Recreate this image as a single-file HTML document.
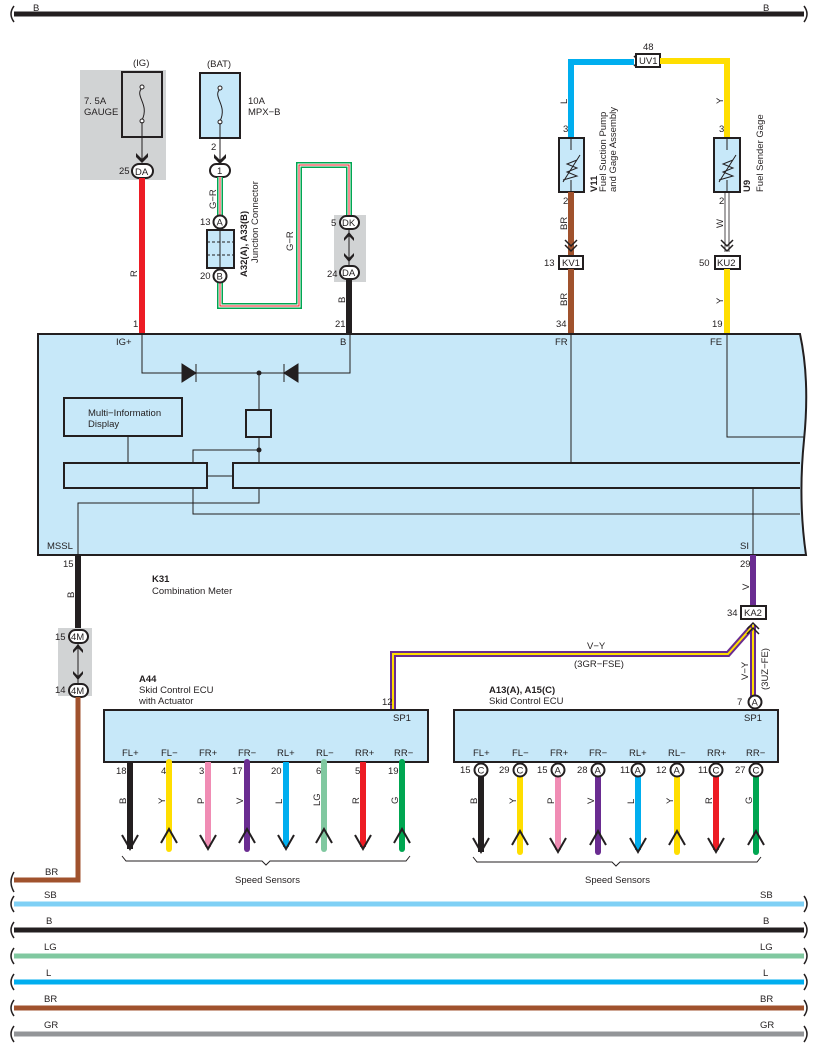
<!DOCTYPE html>
<html><head><meta charset="utf-8"><style>
html,body{margin:0;padding:0;background:#fff}
svg{display:block}
text{font-family:"Liberation Sans",sans-serif;font-size:9.5px;fill:#231f20}
</style></head><body>
<svg width="818" height="1056" viewBox="0 0 818 1056" xmlns="http://www.w3.org/2000/svg">
<!-- top bus -->
<line x1="14" y1="14" x2="804" y2="14" stroke="#231f20" stroke-width="5"/>
<path d="M14 6 q-6 8 0 16 M804 6 q6 8 0 16" stroke="#231f20" stroke-width="1.5" fill="none"/>
<text x="33" y="11">B</text><text x="763" y="11">B</text>

<!-- IG fuse -->
<rect x="80" y="70" width="86" height="110" fill="#d1d3d4"/>
<text x="133" y="66">(IG)</text>
<rect x="122" y="72" width="40" height="65" fill="#d1d3d4" stroke="#231f20" stroke-width="2"/>
<path d="M142 88 c-8 8 8 16 0 32" stroke="#231f20" fill="none"/>
<circle cx="142" cy="87" r="2" fill="#fff" stroke="#231f20"/><circle cx="142" cy="121" r="2" fill="#fff" stroke="#231f20"/>
<line x1="142" y1="122" x2="142" y2="160" stroke="#231f20"/>
<path d="M136 153 l6 6 l6 -6 l0 4 l-6 6 l-6 -6z" fill="#231f20"/>
<text x="84" y="104">7. 5A</text><text x="84" y="115">GAUGE</text>
<text x="119" y="174">25</text>
<rect x="132" y="164" width="21" height="14" rx="7" fill="#fff" stroke="#231f20" stroke-width="2"/>
<text x="135" y="175">DA</text>
<line x1="142" y1="178" x2="142" y2="333" stroke="#ed1c24" stroke-width="6"/>
<text x="0" y="0" transform="translate(137,277) rotate(-90)">R</text>
<text x="133" y="327">1</text>

<!-- BAT fuse -->
<text x="207" y="67">(BAT)</text>
<rect x="200" y="73" width="40" height="65" fill="#c7e8f9" stroke="#231f20" stroke-width="2"/>
<path d="M220 89 c-8 8 8 16 0 32" stroke="#231f20" fill="none"/>
<circle cx="220" cy="88" r="2" fill="#fff" stroke="#231f20"/><circle cx="220" cy="122" r="2" fill="#fff" stroke="#231f20"/>
<line x1="220" y1="123" x2="220" y2="160" stroke="#231f20"/>
<path d="M214 154 l6 6 l6 -6 l0 4 l-6 6 l-6 -6z" fill="#231f20"/>
<text x="248" y="104">10A</text><text x="248" y="115">MPX−B</text>
<text x="211" y="150">2</text>
<rect x="210" y="164" width="20" height="13" rx="6.5" fill="#fff" stroke="#231f20" stroke-width="2"/>
<text x="217" y="174">1</text>
<!-- G-R wire -->
<path d="M220 177 V306 H299 V165 H349 V216" stroke="#00a651" stroke-width="6" fill="none"/>
<path d="M220 177 V306 H299 V165 H349 V216" stroke="#fff" stroke-width="3" fill="none"/>
<path d="M220 177 V306 H299 V165 H349 V216" stroke="#ed1c24" stroke-width="1" fill="none"/>
<text x="0" y="0" transform="translate(216,209) rotate(-90)">G−R</text>
<text x="0" y="0" transform="translate(293,251) rotate(-90)">G−R</text>
<text x="200" y="225">13</text>
<circle cx="220" cy="222" r="6.5" fill="#fff" stroke="#231f20" stroke-width="2"/><text x="216.5" y="225.5">A</text>
<rect x="207" y="230" width="27" height="38" fill="#c7e8f9" stroke="#231f20" stroke-width="2"/>
<line x1="220" y1="230" x2="220" y2="268" stroke="#231f20"/>
<line x1="207" y1="242" x2="234" y2="242" stroke="#231f20" stroke-dasharray="3,2"/>
<line x1="207" y1="255" x2="234" y2="255" stroke="#231f20" stroke-dasharray="3,2"/>
<text x="200" y="279">20</text>
<circle cx="220" cy="276" r="6.5" fill="#fff" stroke="#231f20" stroke-width="2"/><text x="216.5" y="279.5">B</text>
<text x="0" y="0" transform="translate(247,277) rotate(-90)" font-weight="bold">A32(A), A33(B)</text>
<text x="0" y="0" transform="translate(258,263) rotate(-90)">Junction Connector</text>
<!-- DK/DA -->
<rect x="334" y="215" width="32" height="67" fill="#d1d3d4"/>
<text x="331" y="226">5</text>
<rect x="340" y="216" width="19" height="13" rx="6.5" fill="#fff" stroke="#231f20" stroke-width="2"/><text x="342" y="226">DK</text>
<line x1="349" y1="230" x2="349" y2="265" stroke="#231f20"/>
<path d="M344 238 l5 -6 l5 6 l0 3 l-5 -5 l-5 5z M344 256 l5 6 l5 -6 l0 -3 l-5 5 l-5 -5z" fill="#231f20"/>
<text x="327" y="277">24</text>
<rect x="340" y="266" width="19" height="13" rx="6.5" fill="#fff" stroke="#231f20" stroke-width="2"/><text x="342" y="276">DA</text>
<line x1="349" y1="279" x2="349" y2="333" stroke="#231f20" stroke-width="6"/>
<text x="0" y="0" transform="translate(345,303) rotate(-90)">B</text>
<text x="335" y="327">21</text>

<!-- fuel -->
<path d="M571 140 V62 H634" stroke="#00aeef" stroke-width="6" fill="none"/>
<path d="M634 56 l5 5 l-5 5 M639 56 l5 5 l-5 5" stroke="#231f20" stroke-width="1.5" fill="none"/>
<text x="643" y="50">48</text>
<rect x="636" y="54" width="24" height="13" fill="#fff" stroke="#231f20" stroke-width="2"/><text x="639" y="64">UV1</text>
<path d="M660 61 H727 V140" stroke="#ffde00" stroke-width="6" fill="none"/>
<text x="0" y="0" transform="translate(567,104) rotate(-90)">L</text>
<text x="0" y="0" transform="translate(723,104) rotate(-90)">Y</text>
<text x="563" y="132">3</text><text x="719" y="132">3</text>
<rect x="559" y="138" width="25" height="54" fill="#c7e8f9" stroke="#231f20" stroke-width="2"/>
<rect x="714" y="138" width="26" height="54" fill="#c7e8f9" stroke="#231f20" stroke-width="2"/>
<path d="M571 138 V150 M571 180 V192 M727 138 V150 M727 180 V192" stroke="#231f20"/>
<path d="M563 180 l14 -4 l-10 -4 l10 -4 l-10 -4 l10 -4 M563 182 l17 -27" stroke="#231f20" fill="none"/>
<path d="M719 180 l14 -4 l-10 -4 l10 -4 l-10 -4 l10 -4 M719 182 l17 -27" stroke="#231f20" fill="none"/>
<text x="0" y="0" transform="translate(597,192) rotate(-90)" font-weight="bold">V11</text>
<text x="0" y="0" transform="translate(606,192) rotate(-90)">Fuel Suction Pump</text>
<text x="0" y="0" transform="translate(616,192) rotate(-90)">and Gage Assembly</text>
<text x="0" y="0" transform="translate(750,192) rotate(-90)" font-weight="bold">U9</text>
<text x="0" y="0" transform="translate(763,192) rotate(-90)">Fuel Sender Gage</text>
<text x="563" y="204">2</text><text x="719" y="204">2</text>
<line x1="571" y1="192" x2="571" y2="255" stroke="#a0522d" stroke-width="6"/>
<path d="M565 240 l6 6 l6 -6 M565 245 l6 6 l6 -6" stroke="#231f20" stroke-width="1.5" fill="none"/>
<path d="M725 192 V252 M729 192 V252" stroke="#231f20" stroke-width="0.8"/>
<path d="M721 240 l6 6 l6 -6 M721 245 l6 6 l6 -6" stroke="#231f20" stroke-width="1.5" fill="none"/>
<text x="0" y="0" transform="translate(567,230) rotate(-90)">BR</text>
<text x="0" y="0" transform="translate(723,228) rotate(-90)">W</text>
<text x="544" y="266">13</text>
<rect x="559" y="256" width="24" height="13" fill="#fff" stroke="#231f20" stroke-width="2"/><text x="562" y="266">KV1</text>
<text x="699" y="266">50</text>
<rect x="715" y="256" width="25" height="13" fill="#fff" stroke="#231f20" stroke-width="2"/><text x="717" y="266">KU2</text>
<line x1="571" y1="269" x2="571" y2="333" stroke="#a0522d" stroke-width="6"/>
<line x1="727" y1="269" x2="727" y2="333" stroke="#ffde00" stroke-width="6"/>
<text x="0" y="0" transform="translate(567,306) rotate(-90)">BR</text>
<text x="0" y="0" transform="translate(723,304) rotate(-90)">Y</text>
<text x="556" y="327">34</text><text x="712" y="327">19</text>

<!-- K31 -->
<path d="M38 334 H800 Q810 380 804 440 Q798 500 806 555 H38 Z" fill="#c7e8f9" stroke="#231f20" stroke-width="2"/>
<text x="116" y="345">IG+</text><text x="340" y="345">B</text><text x="555" y="345">FR</text><text x="710" y="345">FE</text>
<text x="47" y="549">MSSL</text><text x="740" y="549">SI</text>
<g stroke="#231f20" fill="none" stroke-width="1">
<path d="M142 334 V373 H350 V334"/>
<path d="M259 373 V410 M259 437 V463 M193 463 V450 H259"/>
<path d="M571 334 V463 M727 334 V437 H804"/>
<path d="M128 436 V463 M207 476 H233"/>
<path d="M193 488 V514 H800 M259 488 V503 H78 V555 M753 488 V555"/>
</g>
<path d="M182 364 L196 373 L182 382Z M196 364 V382" fill="#231f20" stroke="#231f20"/>
<path d="M298 364 L284 373 L298 382Z M284 364 V382" fill="#231f20" stroke="#231f20"/>
<circle cx="259" cy="373" r="2.5" fill="#231f20"/><circle cx="259" cy="450" r="2.5" fill="#231f20"/>
<rect x="246" y="410" width="25" height="27" fill="none" stroke="#231f20" stroke-width="2"/>
<rect x="64" y="398" width="118" height="38" fill="none" stroke="#231f20" stroke-width="2"/>
<text x="88" y="416">Multi−Information</text><text x="88" y="427">Display</text>
<rect x="64" y="463" width="143" height="25" fill="none" stroke="#231f20" stroke-width="2"/>
<path d="M800 463 H233 V488 H800" fill="none" stroke="#231f20" stroke-width="2"/>
<text x="152" y="582" font-weight="bold">K31</text><text x="152" y="594">Combination Meter</text>

<!-- MSSL -->
<text x="63" y="567">15</text>
<line x1="78" y1="555" x2="78" y2="631" stroke="#231f20" stroke-width="6"/>
<text x="0" y="0" transform="translate(74,598) rotate(-90)">B</text>
<rect x="58" y="628" width="34" height="68" fill="#d1d3d4"/>
<text x="55" y="640">15</text>
<rect x="69" y="630" width="19" height="13" rx="6.5" fill="#fff" stroke="#231f20" stroke-width="2"/><text x="71" y="640">4M</text>
<line x1="78" y1="643" x2="78" y2="683" stroke="#231f20"/>
<path d="M73 650 l5 -6 l5 6 l0 3 l-5 -5 l-5 5z M73 674 l5 6 l5 -6 l0 -3 l-5 5 l-5 -5z" fill="#231f20"/>
<text x="55" y="693">14</text>
<rect x="69" y="684" width="19" height="13" rx="6.5" fill="#fff" stroke="#231f20" stroke-width="2"/><text x="71" y="694">4M</text>
<path d="M78 697 V880 H14" stroke="#a0522d" stroke-width="5" fill="none"/>
<text x="45" y="875">BR</text>

<!-- SI -->
<text x="740" y="567">29</text>
<line x1="753" y1="555" x2="753" y2="606" stroke="#6a2c91" stroke-width="6"/>
<text x="0" y="0" transform="translate(749,590) rotate(-90)">V</text>
<text x="727" y="616">34</text>
<rect x="741" y="606" width="25" height="13" fill="#fff" stroke="#231f20" stroke-width="2"/><text x="744" y="616">KA2</text>
<path d="M753 625 V697" stroke="#6a2c91" stroke-width="6"/>
<path d="M753 625 V697" stroke="#ffde00" stroke-width="2"/>
<path d="M751 628 L728 654 H393 V710" stroke="#6a2c91" stroke-width="6" fill="none"/>
<path d="M751 628 L728 654 H393 V710" stroke="#ffde00" stroke-width="2" fill="none"/>
<path d="M747 629 l6 -6 l6 6 M747 634 l6 -6 l6 6" stroke="#231f20" stroke-width="1.5" fill="none"/>
<text x="587" y="649">V−Y</text><text x="574" y="667">(3GR−FSE)</text>
<text x="0" y="0" transform="translate(748,680) rotate(-90)">V−Y</text>
<text x="0" y="0" transform="translate(768,690) rotate(-90)">(3UZ−FE)</text>
<text x="737" y="705">7</text>
<circle cx="755" cy="702" r="6.5" fill="#fff" stroke="#231f20" stroke-width="2"/><text x="751.5" y="705.5">A</text>

<!-- A44 -->
<text x="139" y="682" font-weight="bold">A44</text><text x="139" y="693">Skid Control ECU</text><text x="139" y="704">with Actuator</text>
<text x="382" y="705">12</text>
<rect x="104" y="710" width="324" height="52" fill="#c7e8f9" stroke="#231f20" stroke-width="2"/>
<text x="393" y="721">SP1</text>
<g>
<text x="122" y="756">FL+</text><text x="161" y="756">FL−</text><text x="199" y="756">FR+</text><text x="238" y="756">FR−</text>
<text x="277" y="756">RL+</text><text x="316" y="756">RL−</text><text x="355" y="756">RR+</text><text x="394" y="756">RR−</text>
<text x="116" y="774">18</text><text x="161" y="774">4</text><text x="199" y="774">3</text><text x="232" y="774">17</text>
<text x="271" y="774">20</text><text x="316" y="774">6</text><text x="355" y="774">5</text><text x="388" y="774">19</text>
</g>
<g stroke-width="6" fill="none">
<line x1="130" y1="762" x2="130" y2="849" stroke="#231f20"/>
<line x1="169" y1="762" x2="169" y2="849" stroke="#ffde00" stroke-linecap="round"/>
<line x1="208" y1="762" x2="208" y2="847" stroke="#f08cb4"/>
<line x1="247" y1="762" x2="247" y2="849" stroke="#6a2c91" stroke-linecap="round"/>
<line x1="286" y1="762" x2="286" y2="847" stroke="#00aeef"/>
<line x1="324" y1="762" x2="324" y2="849" stroke="#80c8a0" stroke-linecap="round"/>
<line x1="363" y1="762" x2="363" y2="847" stroke="#ed1c24"/>
<line x1="402" y1="762" x2="402" y2="849" stroke="#00a651" stroke-linecap="round"/>
</g>
<g stroke="#231f20" stroke-width="2" fill="none">
<path d="M122 835 l8 14 l8 -14"/><path d="M200 835 l8 14 l8 -14"/><path d="M278 835 l8 14 l8 -14"/><path d="M355 835 l8 14 l8 -14"/>
<path d="M161 843 l8 -14 l8 14"/><path d="M239 843 l8 -14 l8 14"/><path d="M316 843 l8 -14 l8 14"/><path d="M394 843 l8 -14 l8 14"/>
<path d="M122 856 l4 5 H262 l4 4 l4 -4 H406 l4 -5" stroke-width="1"/>
</g>
<g font-size="9">
<text x="0" y="0" transform="translate(126,804) rotate(-90)">B</text><text x="0" y="0" transform="translate(165,804) rotate(-90)">Y</text>
<text x="0" y="0" transform="translate(204,804) rotate(-90)">P</text><text x="0" y="0" transform="translate(243,804) rotate(-90)">V</text>
<text x="0" y="0" transform="translate(282,804) rotate(-90)">L</text><text x="0" y="0" transform="translate(320,806) rotate(-90)">LG</text>
<text x="0" y="0" transform="translate(359,804) rotate(-90)">R</text><text x="0" y="0" transform="translate(398,804) rotate(-90)">G</text>
</g>
<text x="235" y="883">Speed Sensors</text>

<!-- A13 -->
<text x="489" y="693" font-weight="bold">A13(A), A15(C)</text><text x="489" y="704">Skid Control ECU</text>
<rect x="454" y="710" width="324" height="52" fill="#c7e8f9" stroke="#231f20" stroke-width="2"/>
<text x="744" y="721">SP1</text>
<text x="473" y="756">FL+</text><text x="512" y="756">FL−</text><text x="550" y="756">FR+</text><text x="589" y="756">FR−</text>
<text x="629" y="756">RL+</text><text x="668" y="756">RL−</text><text x="707" y="756">RR+</text><text x="746" y="756">RR−</text>
<g stroke-width="6" fill="none">
<line x1="481" y1="770" x2="481" y2="852" stroke="#231f20"/>
<line x1="520" y1="770" x2="520" y2="852" stroke="#ffde00" stroke-linecap="round"/>
<line x1="558" y1="770" x2="558" y2="850" stroke="#f08cb4"/>
<line x1="598" y1="770" x2="598" y2="852" stroke="#6a2c91" stroke-linecap="round"/>
<line x1="638" y1="770" x2="638" y2="850" stroke="#00aeef"/>
<line x1="677" y1="770" x2="677" y2="852" stroke="#ffde00" stroke-linecap="round"/>
<line x1="716" y1="770" x2="716" y2="850" stroke="#ed1c24"/>
<line x1="756" y1="770" x2="756" y2="852" stroke="#00a651" stroke-linecap="round"/>
</g>
<g stroke="#231f20" stroke-width="2" fill="none">
<path d="M473 838 l8 14 l8 -14"/><path d="M550 838 l8 14 l8 -14"/><path d="M630 838 l8 14 l8 -14"/><path d="M708 838 l8 14 l8 -14"/>
<path d="M512 845 l8 -14 l8 14"/><path d="M590 845 l8 -14 l8 14"/><path d="M669 845 l8 -14 l8 14"/><path d="M748 845 l8 -14 l8 14"/>
<path d="M473 857 l4 5 H612 l4 4 l4 -4 H757 l4 -5" stroke-width="1"/>
</g>
<g fill="#fff" stroke="#231f20" stroke-width="2">
<circle cx="481" cy="770" r="6.5"/><circle cx="520" cy="770" r="6.5"/><circle cx="558" cy="770" r="6.5"/><circle cx="598" cy="770" r="6.5"/>
<circle cx="638" cy="770" r="6.5"/><circle cx="677" cy="770" r="6.5"/><circle cx="716" cy="770" r="6.5"/><circle cx="756" cy="770" r="6.5"/>
</g>
<g font-size="9">
<text x="477.5" y="773.5">C</text><text x="516.5" y="773.5">C</text><text x="554.5" y="773.5">A</text><text x="594.5" y="773.5">A</text>
<text x="634.5" y="773.5">A</text><text x="673.5" y="773.5">A</text><text x="712.5" y="773.5">C</text><text x="752.5" y="773.5">C</text>
<text x="460" y="773">15</text><text x="499" y="773">29</text><text x="537" y="773">15</text><text x="577" y="773">28</text>
<text x="620" y="773">11</text><text x="656" y="773">12</text><text x="698" y="773">11</text><text x="735" y="773">27</text>
<text x="0" y="0" transform="translate(477,804) rotate(-90)">B</text><text x="0" y="0" transform="translate(516,804) rotate(-90)">Y</text>
<text x="0" y="0" transform="translate(554,804) rotate(-90)">P</text><text x="0" y="0" transform="translate(594,804) rotate(-90)">V</text>
<text x="0" y="0" transform="translate(634,804) rotate(-90)">L</text><text x="0" y="0" transform="translate(673,804) rotate(-90)">Y</text>
<text x="0" y="0" transform="translate(712,804) rotate(-90)">R</text><text x="0" y="0" transform="translate(752,804) rotate(-90)">G</text>
</g>
<text x="585" y="883">Speed Sensors</text>

<!-- bottom buses -->
<g stroke-width="5">
<line x1="14" y1="904" x2="804" y2="904" stroke="#7fd0f5"/>
<line x1="14" y1="930" x2="804" y2="930" stroke="#231f20"/>
<line x1="14" y1="956" x2="804" y2="956" stroke="#80c8a0"/>
<line x1="14" y1="982" x2="804" y2="982" stroke="#00aeef"/>
<line x1="14" y1="1008" x2="804" y2="1008" stroke="#a0522d"/>
<line x1="14" y1="1034" x2="804" y2="1034" stroke="#939598"/>
</g>
<g stroke="#231f20" stroke-width="1.5" fill="none">
<path d="M14 872 q-6 10 0 20 M14 896 q-6 8 0 16 M14 922 q-6 8 0 16 M14 948 q-6 8 0 16 M14 974 q-6 8 0 16 M14 1000 q-6 8 0 16 M14 1026 q-6 8 0 16"/>
<path d="M804 896 q6 8 0 16 M804 922 q6 8 0 16 M804 948 q6 8 0 16 M804 974 q6 8 0 16 M804 1000 q6 8 0 16 M804 1026 q6 8 0 16"/>
</g>
<text x="44" y="898">SB</text><text x="760" y="898">SB</text>
<text x="46" y="924">B</text><text x="763" y="924">B</text>
<text x="44" y="950">LG</text><text x="760" y="950">LG</text>
<text x="46" y="976">L</text><text x="763" y="976">L</text>
<text x="44" y="1002">BR</text><text x="760" y="1002">BR</text>
<text x="44" y="1028">GR</text><text x="760" y="1028">GR</text>
</svg>
</body></html>
